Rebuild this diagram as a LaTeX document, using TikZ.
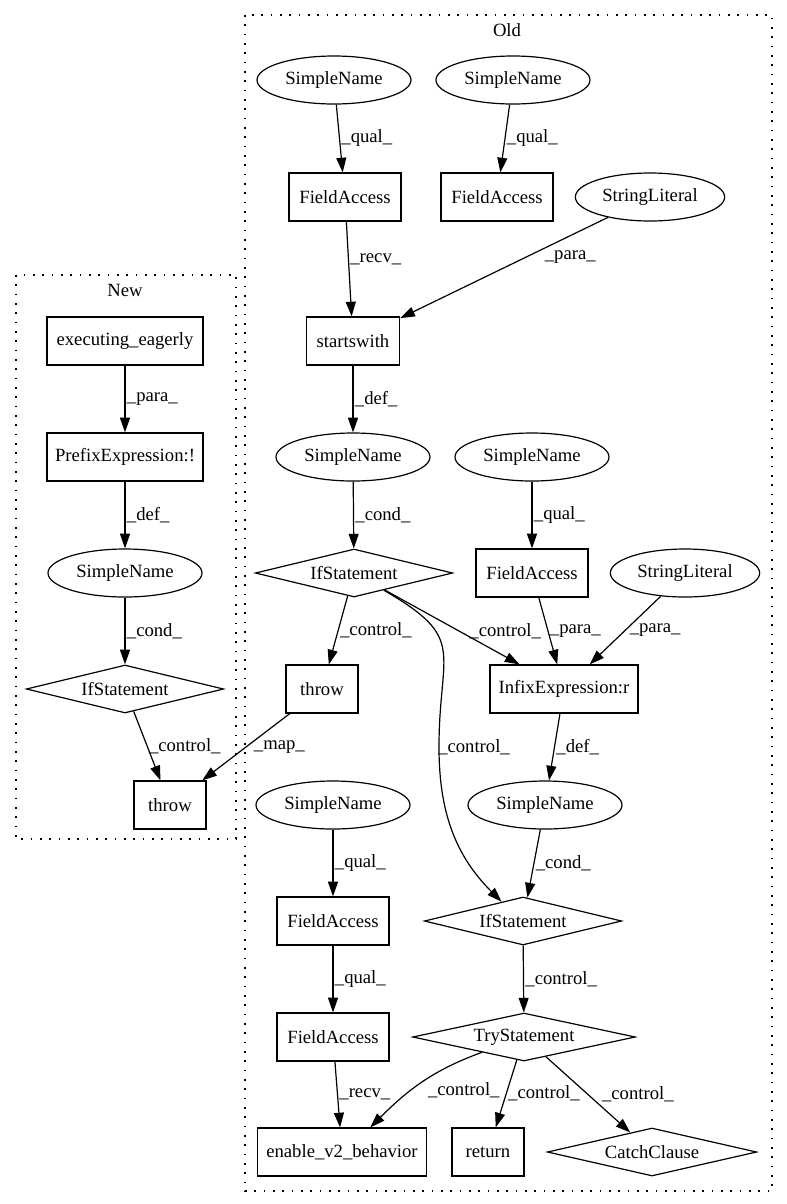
\documentclass[tikz,border=0pt]{standalone}
\usepackage{fontspec}
\setmainfont{Liberation Serif}
\usetikzlibrary{arrows.meta,shapes.geometric}

\begin{document}
\begin{tikzpicture}[x=0.75pt, y=-0.75pt, line width=0.9pt,
  every node/.style={font=\fontsize{14}{16}\selectfont},
  >={Triangle[length=11pt,width=7.5pt]},
  box/.style={draw, rectangle, minimum height=36pt, minimum width=84pt, inner sep=0pt},
  oval/.style={draw, ellipse, minimum height=36pt, minimum width=115.5pt, inner sep=0pt},
  cond/.style={draw, diamond, aspect=4, minimum height=36pt, minimum width=148pt, inner sep=0pt},
  lbl/.style={inner sep=1pt, anchor=west},
  cluster/.style={dash pattern=on 1.2pt off 5.8pt}]
  \useasboundingbox (0,0) rectangle (787,1204);

  % clusters
  \draw [cluster] (245,15) rectangle (772,1191);
  \node (OLD) at (507,30) {Old};
  \draw [cluster] (16,275) rectangle (236,839);
  \node (NEW) at (125,290) {New};

  % New
  \node [box, minimum width=117pt] (EE) at (125,341) {executing\_eagerly};
  \node [box, minimum width=117pt] (PE) at (125,457) {PrefixExpression:!};
  \node [oval] (SNN) at (125,573) {SimpleName};
  \node [cond] (IFN) at (125,689) {IfStatement};
  \node [box, minimum width=54pt] (THN) at (170,805) {throw};

  % Old
  \node [oval] (SN1) at (334,80) {SimpleName};
  \node [oval] (SN2) at (513,80) {SimpleName};
  \node [box] (FA1) at (345,197) {FieldAccess};
  \node [box] (FA2) at (497,197) {FieldAccess};
  \node [oval, minimum width=112pt] (SL1) at (650,197) {StringLiteral};
  \node [box, minimum width=70pt] (SW) at (353,341) {startswith};
  \node [oval] (SN3) at (353,457) {SimpleName};
  \node [oval] (SN4) at (532,457) {SimpleName};
  \node [cond] (IF1) at (354,573) {IfStatement};
  \node [box] (FA3) at (532,573) {FieldAccess};
  \node [oval, minimum width=112pt] (SL2) at (685,573) {StringLiteral};
  \node [box, minimum width=54pt] (TH1) at (322,689) {throw};
  \node [box, minimum width=111pt] (IX) at (564,689) {InfixExpression:r};
  \node [oval] (SN5) at (333,805) {SimpleName};
  \node [oval] (SN6) at (545,805) {SimpleName};
  \node [box] (FA4) at (333,921) {FieldAccess};
  \node [cond] (IF2) at (523,921) {IfStatement};
  \node [box] (FA5) at (333,1037) {FieldAccess};
  \node [cond, minimum width=167pt] (TRY) at (524,1037) {TryStatement};
  \node [box, minimum width=127pt] (EN) at (342,1152) {enable\_v2\_behavior};
  \node [box, minimum width=54pt] (RET) at (488,1152) {return};
  \node [cond, minimum width=157pt] (CC) at (652,1152) {CatchClause};
  \coordinate (CV) at (439,747);

  \draw [->] (EE) -- node [lbl] {\_para\_} (PE);
  \draw [->] (PE) -- node [lbl] {\_def\_} (SNN);
  \draw [->] (SNN) -- node [lbl] {\_cond\_} (IFN);
  \draw [->] (IFN) -- node [lbl] {\_control\_} (THN);
  \draw [->] (TH1) -- node [lbl, xshift=4.5pt] {\_map\_} (THN);

  \draw [->] (SN1) -- node [lbl] {\_qual\_} (FA1);
  \draw [->] (SN2) -- node [lbl] {\_qual\_} (FA2);
  \draw [->] (FA1) -- node [lbl, pos=0.4] {\_recv\_} (SW);
  \draw [->] (SL1) -- node [lbl, pos=0.39, xshift=12pt] {\_para\_} (SW);
  \draw [->] (SW) -- node [lbl] {\_def\_} (SN3);
  \draw [->] (SN3) -- node [lbl] {\_cond\_} (IF1);
  \draw [->] (SN4) -- node [lbl] {\_qual\_} (FA3);
  \draw [->] (IF1) -- node [lbl] {\_control\_} (TH1);
  \draw [->] (IF1) -- node [lbl, pos=0.55, xshift=6.5pt] {\_control\_} (IX);
  \draw [->] (FA3) -- node [lbl] {\_para\_} (IX);
  \draw [->] (SL2) -- node [lbl, xshift=2pt] {\_para\_} (IX);
  \draw [->] (IF1.-30) to [out=-30, in=90, looseness=1.5] (CV) node [lbl, xshift=-2pt] {\_control\_}
    to [out=-90, in=135] (IF2.138);
  \draw [->] (IX) -- node [lbl] {\_def\_} (SN6);
  \draw [->] (SN5) -- node [lbl] {\_qual\_} (FA4);
  \draw [->] (SN6) -- node [lbl] {\_cond\_} (IF2);
  \draw [->] (FA4) -- node [lbl] {\_qual\_} (FA5);
  \draw [->] (IF2) -- node [lbl] {\_control\_} (TRY);
  \draw [->] (FA5) -- node [lbl] {\_recv\_} (EN);
  \draw [->] (TRY) to [out=200, in=45] node [lbl, pos=0.6, xshift=11pt] {\_control\_} (EN.41);
  \draw [->] (TRY) -- node [lbl] {\_control\_} (RET);
  \draw [->] (TRY) -- node [lbl, xshift=9pt] {\_control\_} (CC);
\end{tikzpicture}
\end{document}
